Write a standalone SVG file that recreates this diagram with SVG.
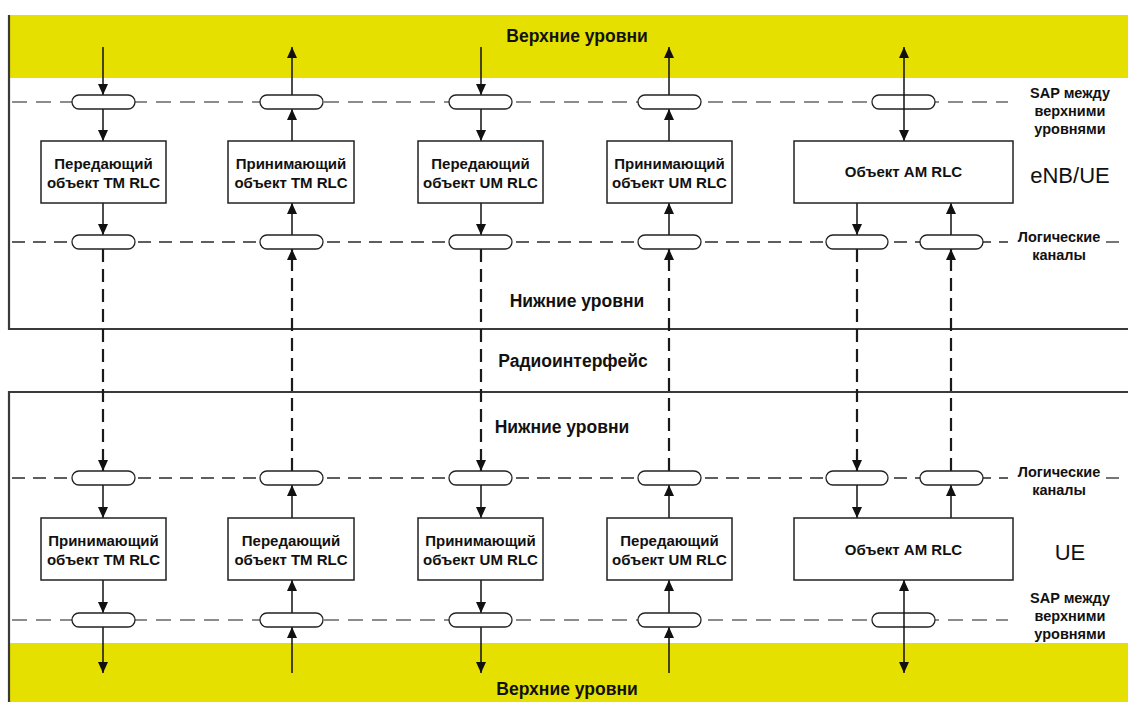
<svg xmlns="http://www.w3.org/2000/svg" width="1128" height="702" viewBox="0 0 1128 702">
  <style>
    .band { fill: #e6e000; }
    .frame { stroke: #3a3a3a; stroke-width: 2.2; fill: none; }
    .sap { stroke: #8c8c8c; stroke-width: 2; stroke-dasharray: 15 9; fill: none; }
    .lch { stroke: #2a2a2a; stroke-width: 1.3; stroke-dasharray: 13 8; fill: none; }
    .oval { fill: #fff; stroke: #222; stroke-width: 1.3; }
    .box { fill: #fff; stroke: #222; stroke-width: 1.5; }
    .flow { stroke: #111; stroke-width: 1.5; fill: none; }
    .air { stroke: #1a1a1a; stroke-width: 2.2; stroke-dasharray: 13 7; fill: none; }
    .lbl { font-family: "Liberation Sans", Arial, sans-serif; font-weight: bold; font-size: 15px; fill: #111; text-anchor: middle; }
    .side { font-family: "Liberation Sans", Arial, sans-serif; font-weight: bold; font-size: 14.5px; fill: #111; text-anchor: middle; }
    .layer { font-family: "Liberation Sans", Arial, sans-serif; font-weight: bold; font-size: 17.5px; fill: #111; text-anchor: middle; }
    .ent { font-family: "Liberation Sans", Arial, sans-serif; font-size: 22px; fill: #111; text-anchor: middle; }
  </style>
  <defs>
    <marker id="ah" markerUnits="userSpaceOnUse" markerWidth="12" markerHeight="10" viewBox="0 0 12 10" refX="11" refY="5" orient="auto-start-reverse">
      <path d="M0,0 L11,5 L0,10 Z" fill="#111"/>
    </marker>
  </defs>

  <!-- layer bands and frames -->
  <g id="bands">
    <rect class="band" x="9" y="15" width="1119" height="63"/>
    <rect class="band" x="9" y="643" width="1119" height="59"/>
    <path class="frame" d="M9,15 V329 H1128"/>
    <path class="frame" d="M1128,392 H9 V702"/>
  </g>

  <!-- service access point and logical channel lines -->
  <g id="levels">
    <line class="sap" x1="12" y1="102" x2="1008" y2="102"/>
    <line class="lch" x1="12" y1="242" x2="1008" y2="242"/>
    <line class="lch" x1="1106" y1="242" x2="1122" y2="242"/>
    <line class="lch" x1="12" y1="478" x2="1008" y2="478"/>
    <line class="lch" x1="1106" y1="478" x2="1122" y2="478"/>
    <line class="sap" x1="12" y1="620" x2="1008" y2="620"/>
  </g>

  <!-- connectors -->
  <g id="connectors">
    <!-- TM: transmit down in eNB, receive in UE -->
    <line class="flow" x1="103" y1="47" x2="103" y2="95" marker-end="url(#ah)"/>
    <line class="flow" x1="103" y1="109" x2="103" y2="141" marker-end="url(#ah)"/>
    <line class="flow" x1="103" y1="203" x2="103" y2="235" marker-end="url(#ah)"/>
    <line class="air" x1="103" y1="249" x2="103" y2="471" marker-end="url(#ah)"/>
    <line class="flow" x1="103" y1="485" x2="103" y2="518" marker-end="url(#ah)"/>
    <line class="flow" x1="103" y1="580" x2="103" y2="613" marker-end="url(#ah)"/>
    <line class="flow" x1="103" y1="627" x2="103" y2="673" marker-end="url(#ah)"/>

    <line class="flow" x1="292" y1="95" x2="292" y2="47" marker-end="url(#ah)"/>
    <line class="flow" x1="292" y1="141" x2="292" y2="109" marker-end="url(#ah)"/>
    <line class="flow" x1="292" y1="235" x2="292" y2="203" marker-end="url(#ah)"/>
    <line class="air" x1="292" y1="471" x2="292" y2="249" marker-end="url(#ah)"/>
    <line class="flow" x1="292" y1="518" x2="292" y2="485" marker-end="url(#ah)"/>
    <line class="flow" x1="292" y1="613" x2="292" y2="580" marker-end="url(#ah)"/>
    <line class="flow" x1="292" y1="673" x2="292" y2="627" marker-end="url(#ah)"/>

    <!-- UM -->
    <line class="flow" x1="481" y1="47" x2="481" y2="95" marker-end="url(#ah)"/>
    <line class="flow" x1="481" y1="109" x2="481" y2="141" marker-end="url(#ah)"/>
    <line class="flow" x1="481" y1="203" x2="481" y2="235" marker-end="url(#ah)"/>
    <line class="air" x1="481" y1="249" x2="481" y2="471" marker-end="url(#ah)"/>
    <line class="flow" x1="481" y1="485" x2="481" y2="518" marker-end="url(#ah)"/>
    <line class="flow" x1="481" y1="580" x2="481" y2="613" marker-end="url(#ah)"/>
    <line class="flow" x1="481" y1="627" x2="481" y2="673" marker-end="url(#ah)"/>

    <line class="flow" x1="669" y1="95" x2="669" y2="47" marker-end="url(#ah)"/>
    <line class="flow" x1="669" y1="141" x2="669" y2="109" marker-end="url(#ah)"/>
    <line class="flow" x1="669" y1="235" x2="669" y2="203" marker-end="url(#ah)"/>
    <line class="air" x1="669" y1="471" x2="669" y2="249" marker-end="url(#ah)"/>
    <line class="flow" x1="669" y1="518" x2="669" y2="485" marker-end="url(#ah)"/>
    <line class="flow" x1="669" y1="613" x2="669" y2="580" marker-end="url(#ah)"/>
    <line class="flow" x1="669" y1="673" x2="669" y2="627" marker-end="url(#ah)"/>

    <!-- AM: logical channels in both directions -->
    <line class="flow" x1="857" y1="203" x2="857" y2="235" marker-end="url(#ah)"/>
    <line class="air" x1="857" y1="249" x2="857" y2="471" marker-end="url(#ah)"/>
    <line class="flow" x1="857" y1="485" x2="857" y2="518" marker-end="url(#ah)"/>
    <line class="flow" x1="951" y1="235" x2="951" y2="203" marker-end="url(#ah)"/>
    <line class="air" x1="951" y1="471" x2="951" y2="249" marker-end="url(#ah)"/>
    <line class="flow" x1="951" y1="518" x2="951" y2="485" marker-end="url(#ah)"/>
  </g>

  <!-- service access points -->
  <g id="sap-top">
    <rect class="oval" x="72" y="95" width="63" height="14" rx="7"/>
    <rect class="oval" x="260" y="95" width="63" height="14" rx="7"/>
    <rect class="oval" x="449" y="95" width="63" height="14" rx="7"/>
    <rect class="oval" x="638" y="95" width="63" height="14" rx="7"/>
    <rect class="oval" x="872" y="95" width="63" height="14" rx="7"/>
  </g>
  <g id="lch-top">
    <rect class="oval" x="72" y="235" width="63" height="14" rx="7"/>
    <rect class="oval" x="260" y="235" width="63" height="14" rx="7"/>
    <rect class="oval" x="449" y="235" width="63" height="14" rx="7"/>
    <rect class="oval" x="638" y="235" width="63" height="14" rx="7"/>
    <rect class="oval" x="826" y="235" width="62" height="14" rx="7"/>
    <rect class="oval" x="920" y="235" width="63" height="14" rx="7"/>
  </g>
  <g id="lch-bottom">
    <rect class="oval" x="72" y="471" width="63" height="14" rx="7"/>
    <rect class="oval" x="260" y="471" width="63" height="14" rx="7"/>
    <rect class="oval" x="449" y="471" width="63" height="14" rx="7"/>
    <rect class="oval" x="638" y="471" width="63" height="14" rx="7"/>
    <rect class="oval" x="826" y="471" width="62" height="14" rx="7"/>
    <rect class="oval" x="920" y="471" width="63" height="14" rx="7"/>
  </g>
  <g id="sap-bottom">
    <rect class="oval" x="72" y="613" width="63" height="14" rx="7"/>
    <rect class="oval" x="260" y="613" width="63" height="14" rx="7"/>
    <rect class="oval" x="449" y="613" width="63" height="14" rx="7"/>
    <rect class="oval" x="638" y="613" width="63" height="14" rx="7"/>
    <rect class="oval" x="872" y="613" width="63" height="14" rx="7"/>
  </g>

  <!-- AM upper-layer links pass through their SAP -->
  <g id="am-upper-links">
    <line class="flow" x1="904" y1="47" x2="904" y2="141" marker-start="url(#ah)" marker-end="url(#ah)"/>
    <line class="flow" x1="904" y1="580" x2="904" y2="673" marker-start="url(#ah)" marker-end="url(#ah)"/>
  </g>

  <!-- RLC entities, eNB side -->
  <g id="enb-tm-tx">
    <rect class="box" x="41" y="141" width="125" height="62"/>
    <text class="lbl" x="103.5" y="169">Передающий</text>
    <text class="lbl" x="103.5" y="188">объект TM RLC</text>
  </g>
  <g id="enb-tm-rx">
    <rect class="box" x="228" y="141" width="126" height="62"/>
    <text class="lbl" x="291" y="169">Принимающий</text>
    <text class="lbl" x="291" y="188">объект TM RLC</text>
  </g>
  <g id="enb-um-tx">
    <rect class="box" x="418" y="141" width="125" height="62"/>
    <text class="lbl" x="480.5" y="169">Передающий</text>
    <text class="lbl" x="480.5" y="188">объект UM RLC</text>
  </g>
  <g id="enb-um-rx">
    <rect class="box" x="607" y="141" width="125" height="62"/>
    <text class="lbl" x="669.5" y="169">Принимающий</text>
    <text class="lbl" x="669.5" y="188">объект UM RLC</text>
  </g>
  <g id="enb-am">
    <rect class="box" x="794" y="141" width="219" height="62"/>
    <text class="lbl" x="903.5" y="177">Объект AM RLC</text>
  </g>

  <!-- RLC entities, UE side -->
  <g id="ue-tm-rx">
    <rect class="box" x="41" y="518" width="125" height="62"/>
    <text class="lbl" x="103.5" y="546">Принимающий</text>
    <text class="lbl" x="103.5" y="565">объект TM RLC</text>
  </g>
  <g id="ue-tm-tx">
    <rect class="box" x="228" y="518" width="126" height="62"/>
    <text class="lbl" x="291" y="546">Передающий</text>
    <text class="lbl" x="291" y="565">объект TM RLC</text>
  </g>
  <g id="ue-um-rx">
    <rect class="box" x="418" y="518" width="125" height="62"/>
    <text class="lbl" x="480.5" y="546">Принимающий</text>
    <text class="lbl" x="480.5" y="565">объект UM RLC</text>
  </g>
  <g id="ue-um-tx">
    <rect class="box" x="607" y="518" width="125" height="62"/>
    <text class="lbl" x="669.5" y="546">Передающий</text>
    <text class="lbl" x="669.5" y="565">объект UM RLC</text>
  </g>
  <g id="ue-am">
    <rect class="box" x="794" y="518" width="219" height="62"/>
    <text class="lbl" x="903.5" y="555">Объект AM RLC</text>
  </g>

  <!-- layer and interface captions -->
  <g id="captions">
    <text class="layer" x="577" y="42">Верхние уровни</text>
    <text class="layer" x="577" y="307">Нижние уровни</text>
    <text class="layer" x="573" y="367">Радиоинтерфейс</text>
    <text class="layer" x="562" y="433">Нижние уровни</text>
    <text class="layer" x="567" y="695">Верхние уровни</text>
  </g>

  <!-- side labels -->
  <g id="side-labels">
    <text class="side" x="1070" y="98">SAP между</text>
    <text class="side" x="1070" y="116">верхними</text>
    <text class="side" x="1070" y="134">уровнями</text>
    <text class="ent" x="1070" y="183">eNB/UE</text>
    <text class="side" x="1059" y="242">Логические</text>
    <text class="side" x="1059" y="260">каналы</text>
    <text class="side" x="1059" y="477">Логические</text>
    <text class="side" x="1059" y="495">каналы</text>
    <text class="ent" x="1070" y="560">UE</text>
    <text class="side" x="1070" y="603">SAP между</text>
    <text class="side" x="1070" y="621">верхними</text>
    <text class="side" x="1070" y="639">уровнями</text>
  </g>
</svg>
